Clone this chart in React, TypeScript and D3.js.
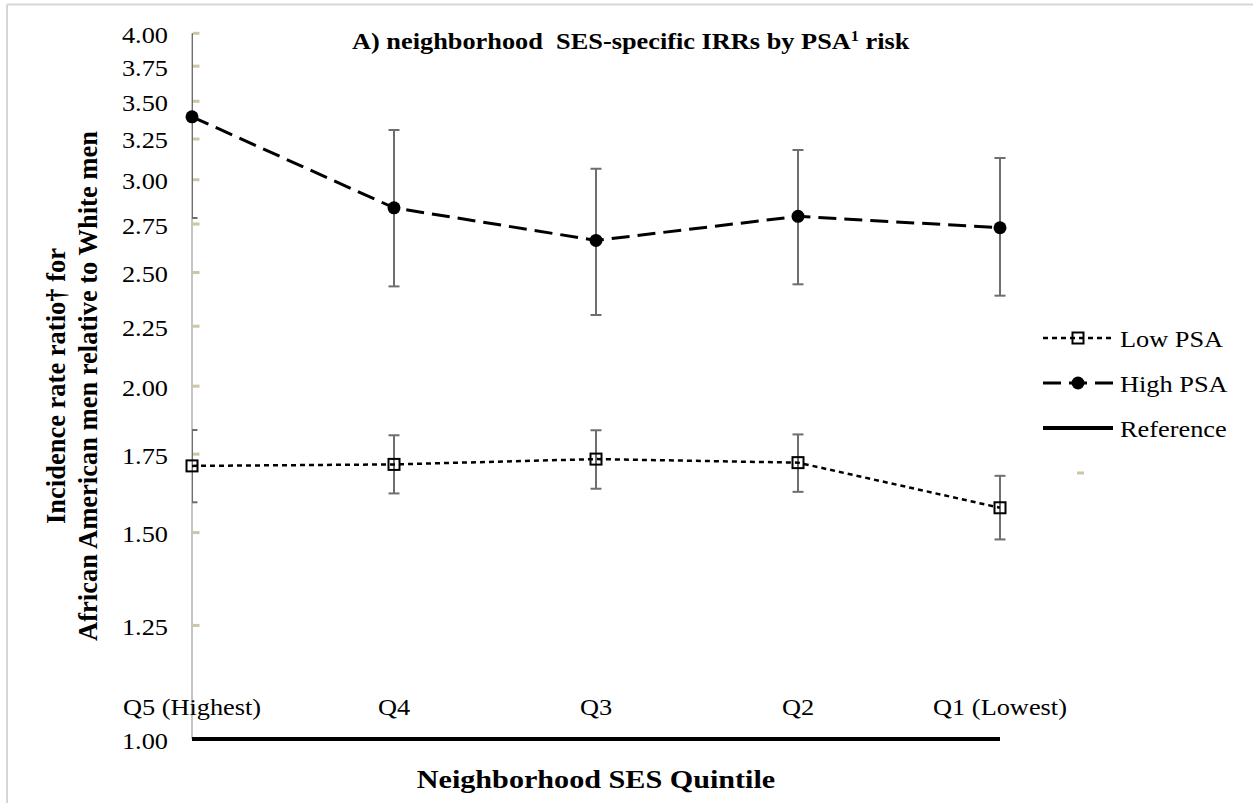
import React from "react";
import * as d3 from "d3";

// Neighborhood SES quintiles, highest to lowest
const categories = ["Q5 (Highest)", "Q4", "Q3", "Q2", "Q1 (Lowest)"];

// Low PSA incidence rate ratios with 95% CI
const lowPSA = [1.71, 1.715, 1.733, 1.721, 1.575];
const lowPSALower = [1.592, 1.62, 1.635, 1.625, 1.48];
const lowPSAUpper = [1.835, 1.816, 1.834, 1.819, 1.677];

// High PSA incidence rate ratios with 95% CI
const highPSA = [3.395, 2.839, 2.663, 2.792, 2.73];
const highPSALower = [2.783, 2.433, 2.3, 2.443, 2.389];
const highPSAUpper = [4.15, 3.308, 3.066, 3.18, 3.131];

// Reference IRR (White men)
const referenceValue = 1.0;

const yTicks = [1.0, 1.25, 1.5, 1.75, 2.0, 2.25, 2.5, 2.75, 3.0, 3.25, 3.5, 3.75, 4.0];

const legendItems = ["Low PSA", "High PSA", "Reference"];

const FONT = "'Liberation Serif', 'Times New Roman', serif";
const STRETCH = 1.16;

const W = 1253;
const H = 803;
const plot = { left: 192, right: 1000, top: 33.3, bottom: 739 };

function SText({
  x,
  y,
  anchor = "start",
  size = 22.7,
  weight = "normal",
  children,
}: {
  x: number;
  y: number;
  anchor?: string;
  size?: number;
  weight?: string;
  children: React.ReactNode;
}) {
  return (
    <text
      transform={`translate(${x},${y}) scale(${STRETCH},1)`}
      textAnchor={anchor}
      fontFamily={FONT}
      fontSize={size}
      fontWeight={weight}
      fill="#000"
    >
      {children}
    </text>
  );
}

export default function App() {
  const x = d3.scalePoint<string>().domain(categories).range([plot.left, plot.right]);
  const y = d3.scaleLog().domain([1, 4]).range([plot.bottom, plot.top]);

  const line = d3
    .line<number>()
    .x((_, i) => x(categories[i]) as number)
    .y((d) => y(d));

  const capHalf = 5.5;
  const errColor = "#6e6e6e";

  const errorBars = (lower: number[], upper: number[], key: string) =>
    categories.map((c, i) => {
      const cx = x(c) as number;
      const y1 = y(lower[i]);
      const y2 = y(upper[i]);
      return (
        <g key={`${key}-${i}`} stroke={errColor} strokeWidth={2}>
          <line x1={cx} x2={cx} y1={y1} y2={y2} />
          <line x1={cx - capHalf} x2={cx + capHalf} y1={y1} y2={y1} />
          <line x1={cx - capHalf} x2={cx + capHalf} y1={y2} y2={y2} />
        </g>
      );
    });

  const lx1 = 1043;
  const lx2 = 1113;
  const lmid = (lx1 + lx2) / 2;
  const legendY = [338, 383, 428];

  return (
    <svg width={W} height={H} style={{ position: "absolute", left: 0, top: 0 }}>
      <rect x={0} y={0} width={W} height={H} fill="#fff" />
      <defs>
        <clipPath id="plotClip">
          <rect x={plot.left} y={plot.top} width={W - plot.left} height={plot.bottom - plot.top} />
        </clipPath>
      </defs>

      {/* page frame */}
      <line x1={7} x2={W} y1={4.5} y2={4.5} stroke="#d6d6d6" strokeWidth={2} />
      <line x1={7} x2={7} y1={4.5} y2={H} stroke="#d6d6d6" strokeWidth={2} />

      {/* title */}
      <text
        x={352}
        y={49}
        fontFamily={FONT}
        fontSize={22.7}
        fontWeight="bold"
        transform={`translate(${352 - 352 * STRETCH},0) scale(${STRETCH},1)`}
      >
        A) neighborhood{"\u00A0\u00A0"}SES-specific IRRs by PSA
        <tspan fontSize={14} dy={-8}>1</tspan>
        <tspan dy={8}> risk</tspan>
      </text>

      {/* y axis */}
      <line x1={plot.left} x2={plot.left} y1={plot.top} y2={plot.bottom} stroke="#c4c4c4" strokeWidth={2} />
      {yTicks.map((t) => (
        <g key={t}>
          <rect x={plot.left + 1} y={y(t) - 1.5} width={6.5} height={3} fill="#cdc5a3" />
          <SText x={168} y={y(t) + 9.5} anchor="end">
            {t.toFixed(2)}
          </SText>
        </g>
      ))}

      {/* y axis title */}
      <g fontFamily={FONT} fontWeight="bold" fontSize={26.5} textAnchor="middle">
        <text transform={`translate(65,386) rotate(-90)`}>Incidence rate ratio† for</text>
        <text transform={`translate(97,386) rotate(-90)`}>African American men relative to White men</text>
      </g>

      {/* category labels */}
      {categories.map((c) => (
        <SText key={c} x={x(c) as number} y={715} anchor="middle">
          {c}
        </SText>
      ))}

      {/* x axis title */}
      <SText x={596} y={788} anchor="middle" weight="bold" size={26}>
        Neighborhood SES Quintile
      </SText>

      {/* error bars */}
      <g clipPath="url(#plotClip)">
        {errorBars(highPSALower, highPSAUpper, "hi")}
        {errorBars(lowPSALower, lowPSAUpper, "lo")}
      </g>

      {/* reference line */}
      <line
        x1={x(categories[0]) as number}
        x2={x(categories[categories.length - 1]) as number}
        y1={y(referenceValue)}
        y2={y(referenceValue)}
        stroke="#000"
        strokeWidth={4}
      />

      {/* series lines */}
      <path d={line(highPSA) as string} fill="none" stroke="#000" strokeWidth={3} strokeDasharray="18,8" />
      <path d={line(lowPSA) as string} fill="none" stroke="#000" strokeWidth={2.5} strokeDasharray="5,4" />

      {/* markers */}
      {highPSA.map((v, i) => (
        <circle key={`hc-${i}`} cx={x(categories[i]) as number} cy={y(v)} r={6.5} fill="#000" />
      ))}
      {lowPSA.map((v, i) => (
        <rect
          key={`ls-${i}`}
          x={(x(categories[i]) as number) - 5.5}
          y={y(v) - 5.5}
          width={11}
          height={11}
          fill="none"
          stroke="#000"
          strokeWidth={2}
        />
      ))}

      {/* legend */}
      <g>
        <line x1={lx1} x2={lx2} y1={legendY[0]} y2={legendY[0]} stroke="#000" strokeWidth={2.5} strokeDasharray="5,4" />
        <rect x={lmid - 5.5} y={legendY[0] - 5.5} width={11} height={11} fill="none" stroke="#000" strokeWidth={2} />
        <line x1={lx1} x2={lx2} y1={legendY[1]} y2={legendY[1]} stroke="#000" strokeWidth={3} strokeDasharray="18,8" />
        <circle cx={lmid} cy={legendY[1]} r={6.5} fill="#000" />
        <line x1={lx1} x2={lx2} y1={legendY[2]} y2={legendY[2]} stroke="#000" strokeWidth={4} />
        {legendItems.map((name, i) => (
          <SText key={name} x={1120} y={legendY[i] + 9} anchor="start">
            {name}
          </SText>
        ))}
        <rect x={1077} y={471.5} width={7} height={3} fill="#cdc5a3" />
      </g>
    </svg>
  );
}
